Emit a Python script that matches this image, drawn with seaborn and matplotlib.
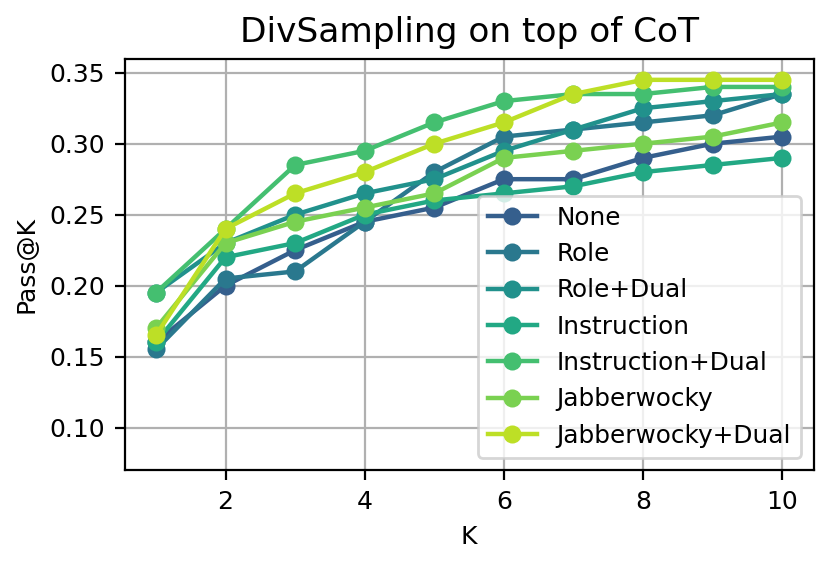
import numpy as np
import pandas as pd
import matplotlib
matplotlib.use("Agg")
import matplotlib.pyplot as plt
import seaborn as sns

# Pass@K values
k_values = [1, 2, 3, 4, 5, 6, 7, 8, 9, 10]
methods = ["None", "Role", "Role+Dual", "Instruction", "Instruction+Dual",
           "Jabberwocky", "Jabberwocky+Dual"]

none_vals = [0.160, 0.200, 0.225, 0.245, 0.255, 0.275, 0.275, 0.290, 0.300, 0.305]
role_vals = [0.155, 0.205, 0.210, 0.245, 0.280, 0.305, 0.310, 0.315, 0.320, 0.335]
role_dual_vals = [0.195, 0.230, 0.250, 0.265, 0.275, 0.295, 0.310, 0.325, 0.330, 0.335]
instr_vals = [0.160, 0.220, 0.230, 0.250, 0.260, 0.265, 0.270, 0.280, 0.285, 0.290]
instr_dual_vals = [0.195, 0.240, 0.285, 0.295, 0.315, 0.330, 0.335, 0.335, 0.340, 0.340]
jabb_vals = [0.170, 0.230, 0.245, 0.255, 0.265, 0.290, 0.295, 0.300, 0.305, 0.315]
jabb_dual_vals = [0.165, 0.240, 0.265, 0.280, 0.300, 0.315, 0.335, 0.345, 0.345, 0.345]

series = [none_vals, role_vals, role_dual_vals, instr_vals,
          instr_dual_vals, jabb_vals, jabb_dual_vals]

# Long-form table for seaborn
df = pd.DataFrame({
    "K": k_values * len(methods),
    "Pass@K": [v for s in series for v in s],
    "Method": [m for m in methods for _ in k_values],
})

colors = [plt.cm.viridis(v) for v in np.linspace(0.3, 0.9, len(methods))]

plt.rcParams["font.size"] = 9
fig, ax = plt.subplots(figsize=(4.155, 2.815), dpi=200)
fig.subplots_adjust(left=0.15, right=0.979, bottom=0.165, top=0.896)

sns.lineplot(data=df, x="K", y="Pass@K", hue="Method", hue_order=methods,
             palette=colors, marker="o", markersize=6.5, markeredgewidth=0,
             linewidth=1.6, ax=ax)

ax.set_ylim(0.07, 0.36)
ax.grid(True, color="#b0b0b0", linewidth=0.8)
ax.set_axisbelow(True)
ax.set_title("DivSampling on top of CoT", fontsize=12.4)
ax.set_xlabel("K")
ax.set_ylabel("Pass@K")
sns.move_legend(ax, "lower right", title=None, fontsize=8.9)

fig.savefig("out.png", dpi=200)
